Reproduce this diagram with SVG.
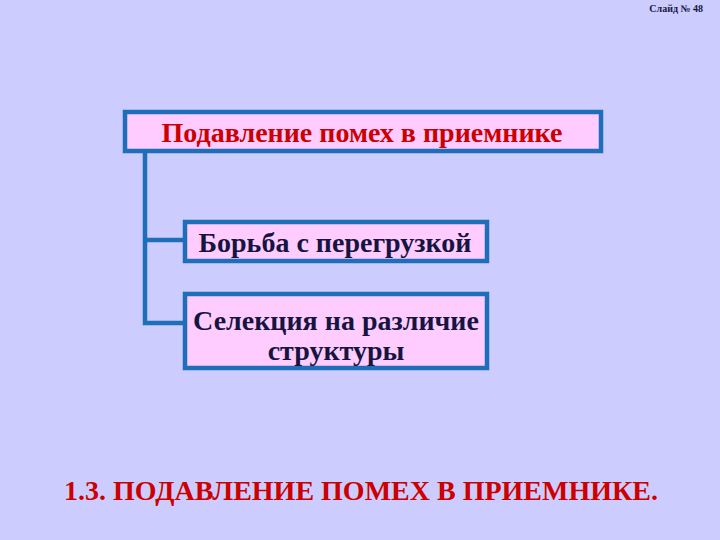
<svg xmlns="http://www.w3.org/2000/svg" width="720" height="540" viewBox="0 0 720 540">
<style>
.box{fill:#FFCCFF;stroke:#1E6EB8;stroke-width:4.5}
.conn{fill:none;stroke:#1E6EB8;stroke-width:4.5}
.lbl{font-family:"Liberation Serif",serif;font-size:28px;font-weight:bold;fill:#15153F;text-anchor:middle}
</style>
<rect x="0" y="0" width="720" height="540" fill="#CCCCFF"/>
<text x="703" y="12" font-family="Liberation Serif,serif" font-size="10" font-weight="bold" fill="#15153F" text-anchor="end">Слайд № 48</text>
<g id="connectors">
<polyline class="conn" points="145,153 145,323 185,323"/>
<line class="conn" x1="145" y1="240" x2="185" y2="240"/>
</g>
<g id="root">
<rect class="box" x="125" y="112" width="476" height="39"/>
<text x="362" y="142" font-family="Liberation Serif,serif" font-size="28" font-weight="bold" fill="#CC0000" text-anchor="middle">Подавление помех в приемнике</text>
</g>
<g id="n1">
<rect class="box" x="185" y="222" width="302" height="39"/>
<text class="lbl" x="335" y="252">Борьба с перегрузкой</text>
</g>
<g id="n2">
<rect class="box" x="185" y="294" width="302" height="74"/>
<text class="lbl" x="336" y="330">Селекция на различие</text>
<text class="lbl" x="336" y="360">структуры</text>
</g>
<text x="361" y="500" font-family="Liberation Serif,serif" font-size="28" font-weight="bold" fill="#CC0000" text-anchor="middle">1.3. ПОДАВЛЕНИЕ ПОМЕХ В ПРИЕМНИКЕ.</text>
</svg>
